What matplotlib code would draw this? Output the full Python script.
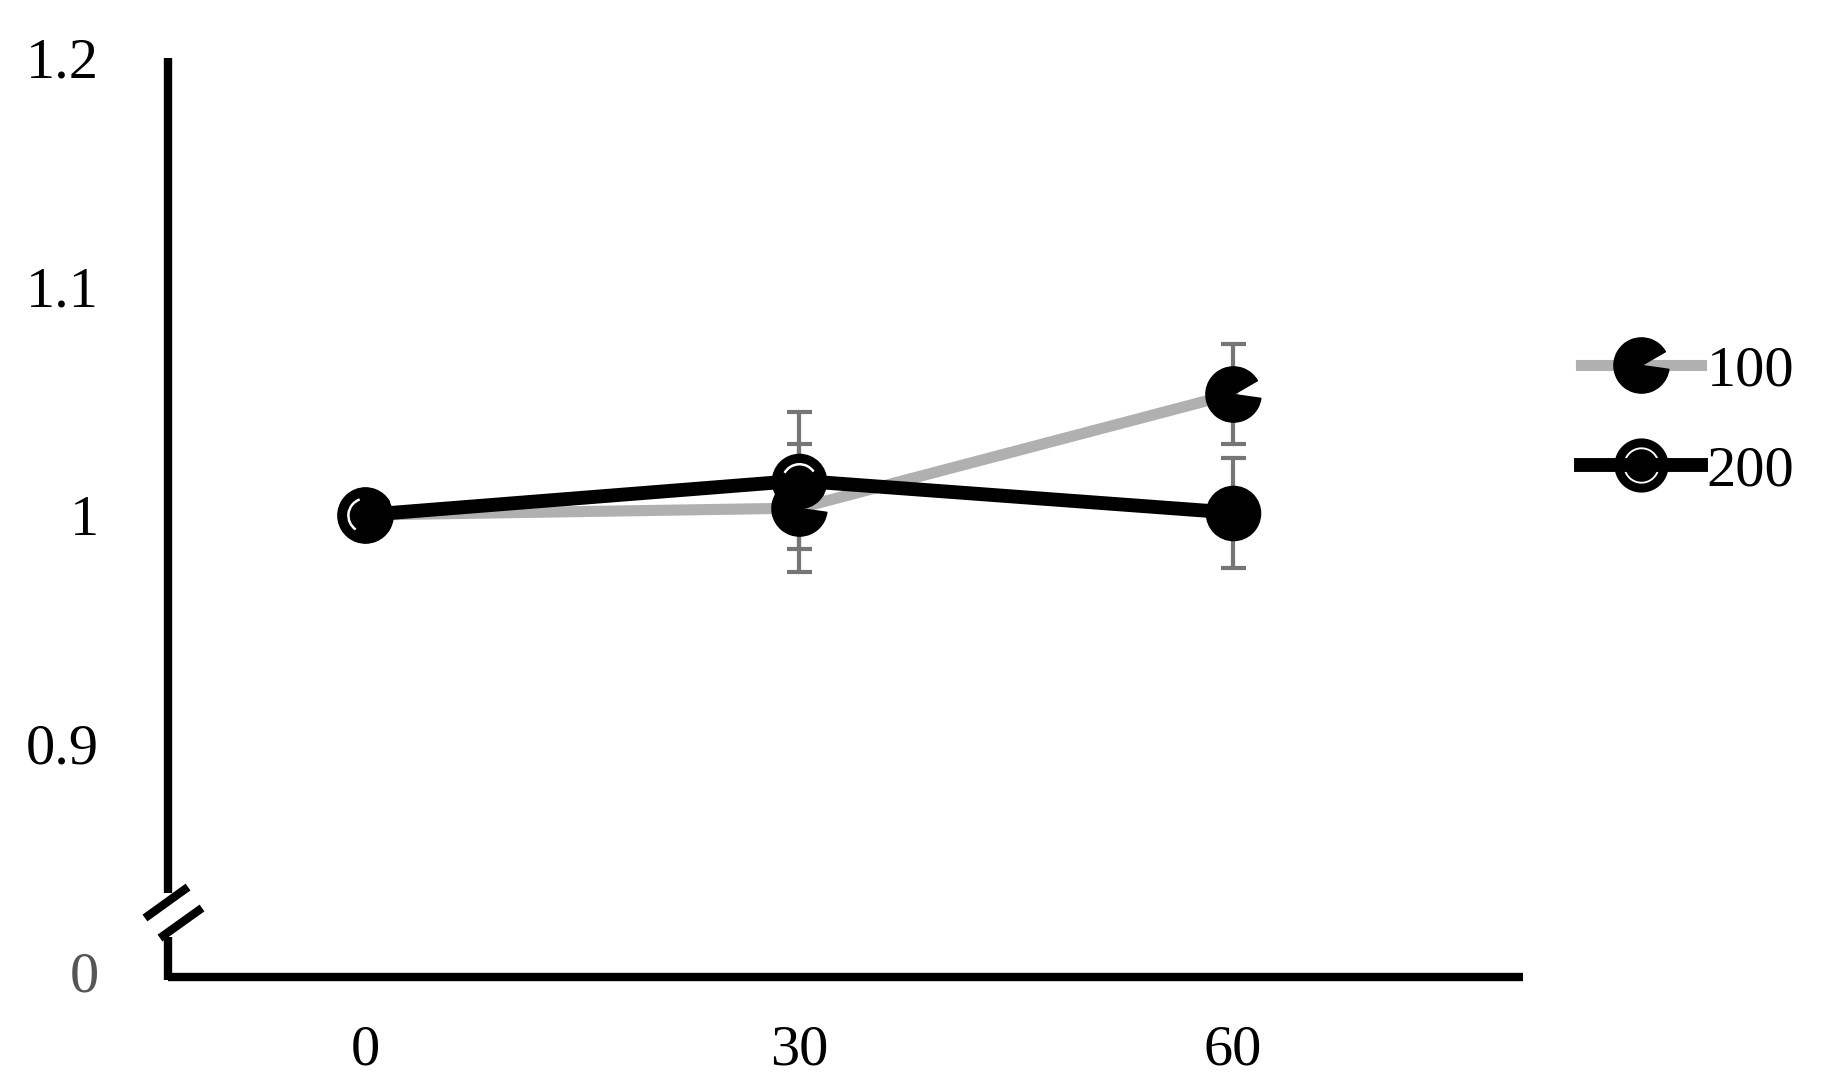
import matplotlib

matplotlib.use("Agg")
import numpy as np
import matplotlib.pyplot as plt
from matplotlib.path import Path
from matplotlib.lines import Line2D

# --- data ---
time_min = [0, 30, 60]
mean_100 = [1.0, 1.003, 1.053]
err_100 = [0.0, 0.028, 0.022]
mean_200 = [1.0, 1.015, 1.001]
err_200 = [0.0, 0.030, 0.024]
series_labels = ["100", "200"]
ytick_vals = [0.8, 0.9, 1.0, 1.1, 1.2]
ytick_text = ["0", "0.9", "1", "1.1", "1.2"]   # broken axis: bottom shown as 0

plt.rcParams["font.family"] = ["Liberation Serif", "DejaVu Serif"]


def ring_disc(r_in=0.60, r_out=0.67, n=120):
    # black disc with a thin transparent ring cut out (nonzero winding)
    t = np.linspace(0, 2 * np.pi, n)
    loops = [(1.0, t), (r_out, t[::-1]), (r_in, t)]
    verts, codes = [], []
    for r, a in loops:
        pts = np.column_stack([r * np.cos(a), r * np.sin(a)])
        verts.extend(pts)
        codes.extend([Path.MOVETO] + [Path.LINETO] * (n - 2) + [Path.CLOSEPOLY])
    return Path(verts, codes)


fig = plt.figure(figsize=(18.26, 10.92), dpi=100)
ax = fig.add_axes([0.0920, 0.1053, 0.7420, 0.8416])
ax.set_xlim(-13.61, 80.03)
ax.set_ylim(0.7978, 1.2)

for s in ax.spines.values():
    s.set_visible(False)

# error bars behind everything
ax.errorbar(time_min, mean_100, yerr=err_100, fmt="none", ecolor="#767676",
            elinewidth=3, capsize=9, capthick=3, zorder=1)
ax.errorbar(time_min, mean_200, yerr=err_200, fmt="none", ecolor="#767676",
            elinewidth=3, capsize=9, capthick=3, zorder=1)

blob = Path.wedge(30, 352)
ax.plot(time_min, mean_100, color="#b0b0b0", lw=8, zorder=2,
        solid_capstyle="round")
ax.plot(time_min, mean_200, color="black", lw=10, zorder=3,
        solid_capstyle="round")
ax.plot(time_min, mean_100, ls="none", marker=blob, ms=40, mfc="black",
        mec="black", zorder=4)
ax.plot(time_min, mean_200, ls="none", marker="o", ms=39, mfc="black",
        mec="black", zorder=5)

# white inner highlight on the 200 markers (first two points only)
arcs = [Path.arc(110, 235), Path.arc(35, 150)]
for x, y, arc in zip(time_min[:2], mean_200[:2], arcs):
    ax.plot([x], [y], ls="none", marker=arc, ms=25, mfc="none", mec="white",
            mew=1.8, zorder=6)

ax.set_xticks(time_min)
ax.set_xticklabels([str(t) for t in time_min])
ax.set_yticks(ytick_vals)
ax.set_yticklabels(ytick_text)
ax.tick_params(axis="x", length=0, labelsize=42, pad=34)
ax.tick_params(axis="y", length=0, labelsize=42, pad=50)
ax.get_yticklabels()[0].set_color("#555555")

# hand-drawn axes with a break near the bottom of the y axis
kw = dict(transform=ax.transAxes, color="black", lw=6, clip_on=False,
          solid_capstyle="butt", zorder=7)
ax.plot([0, 1], [0, 0], **kw)
ax.plot([0, 0], [-0.003, 0.0435], **kw)
ax.plot([0, 0], [0.0915, 1], **kw)
ax.plot([-0.017, 0.0148], [0.0642, 0.0979], **kw)
ax.plot([-0.0059, 0.0251], [0.0424, 0.0751], **kw)

# legend
h100 = Line2D([], [], color="#b0b0b0", lw=8, marker=blob, ms=40, mfc="black",
              mec="black")
h200 = Line2D([], [], color="black", lw=10, marker=ring_disc(), ms=39,
              mfc="black", mec="none")
fig.legend([h100, h200], series_labels, loc="center left",
           bbox_to_anchor=(0.866, 0.6145), frameon=False, fontsize=42,
           handlelength=2.05, handletextpad=0.1, borderpad=0,
           borderaxespad=0, labelspacing=0.8)

fig.savefig("out.png", dpi=100, facecolor="white")
